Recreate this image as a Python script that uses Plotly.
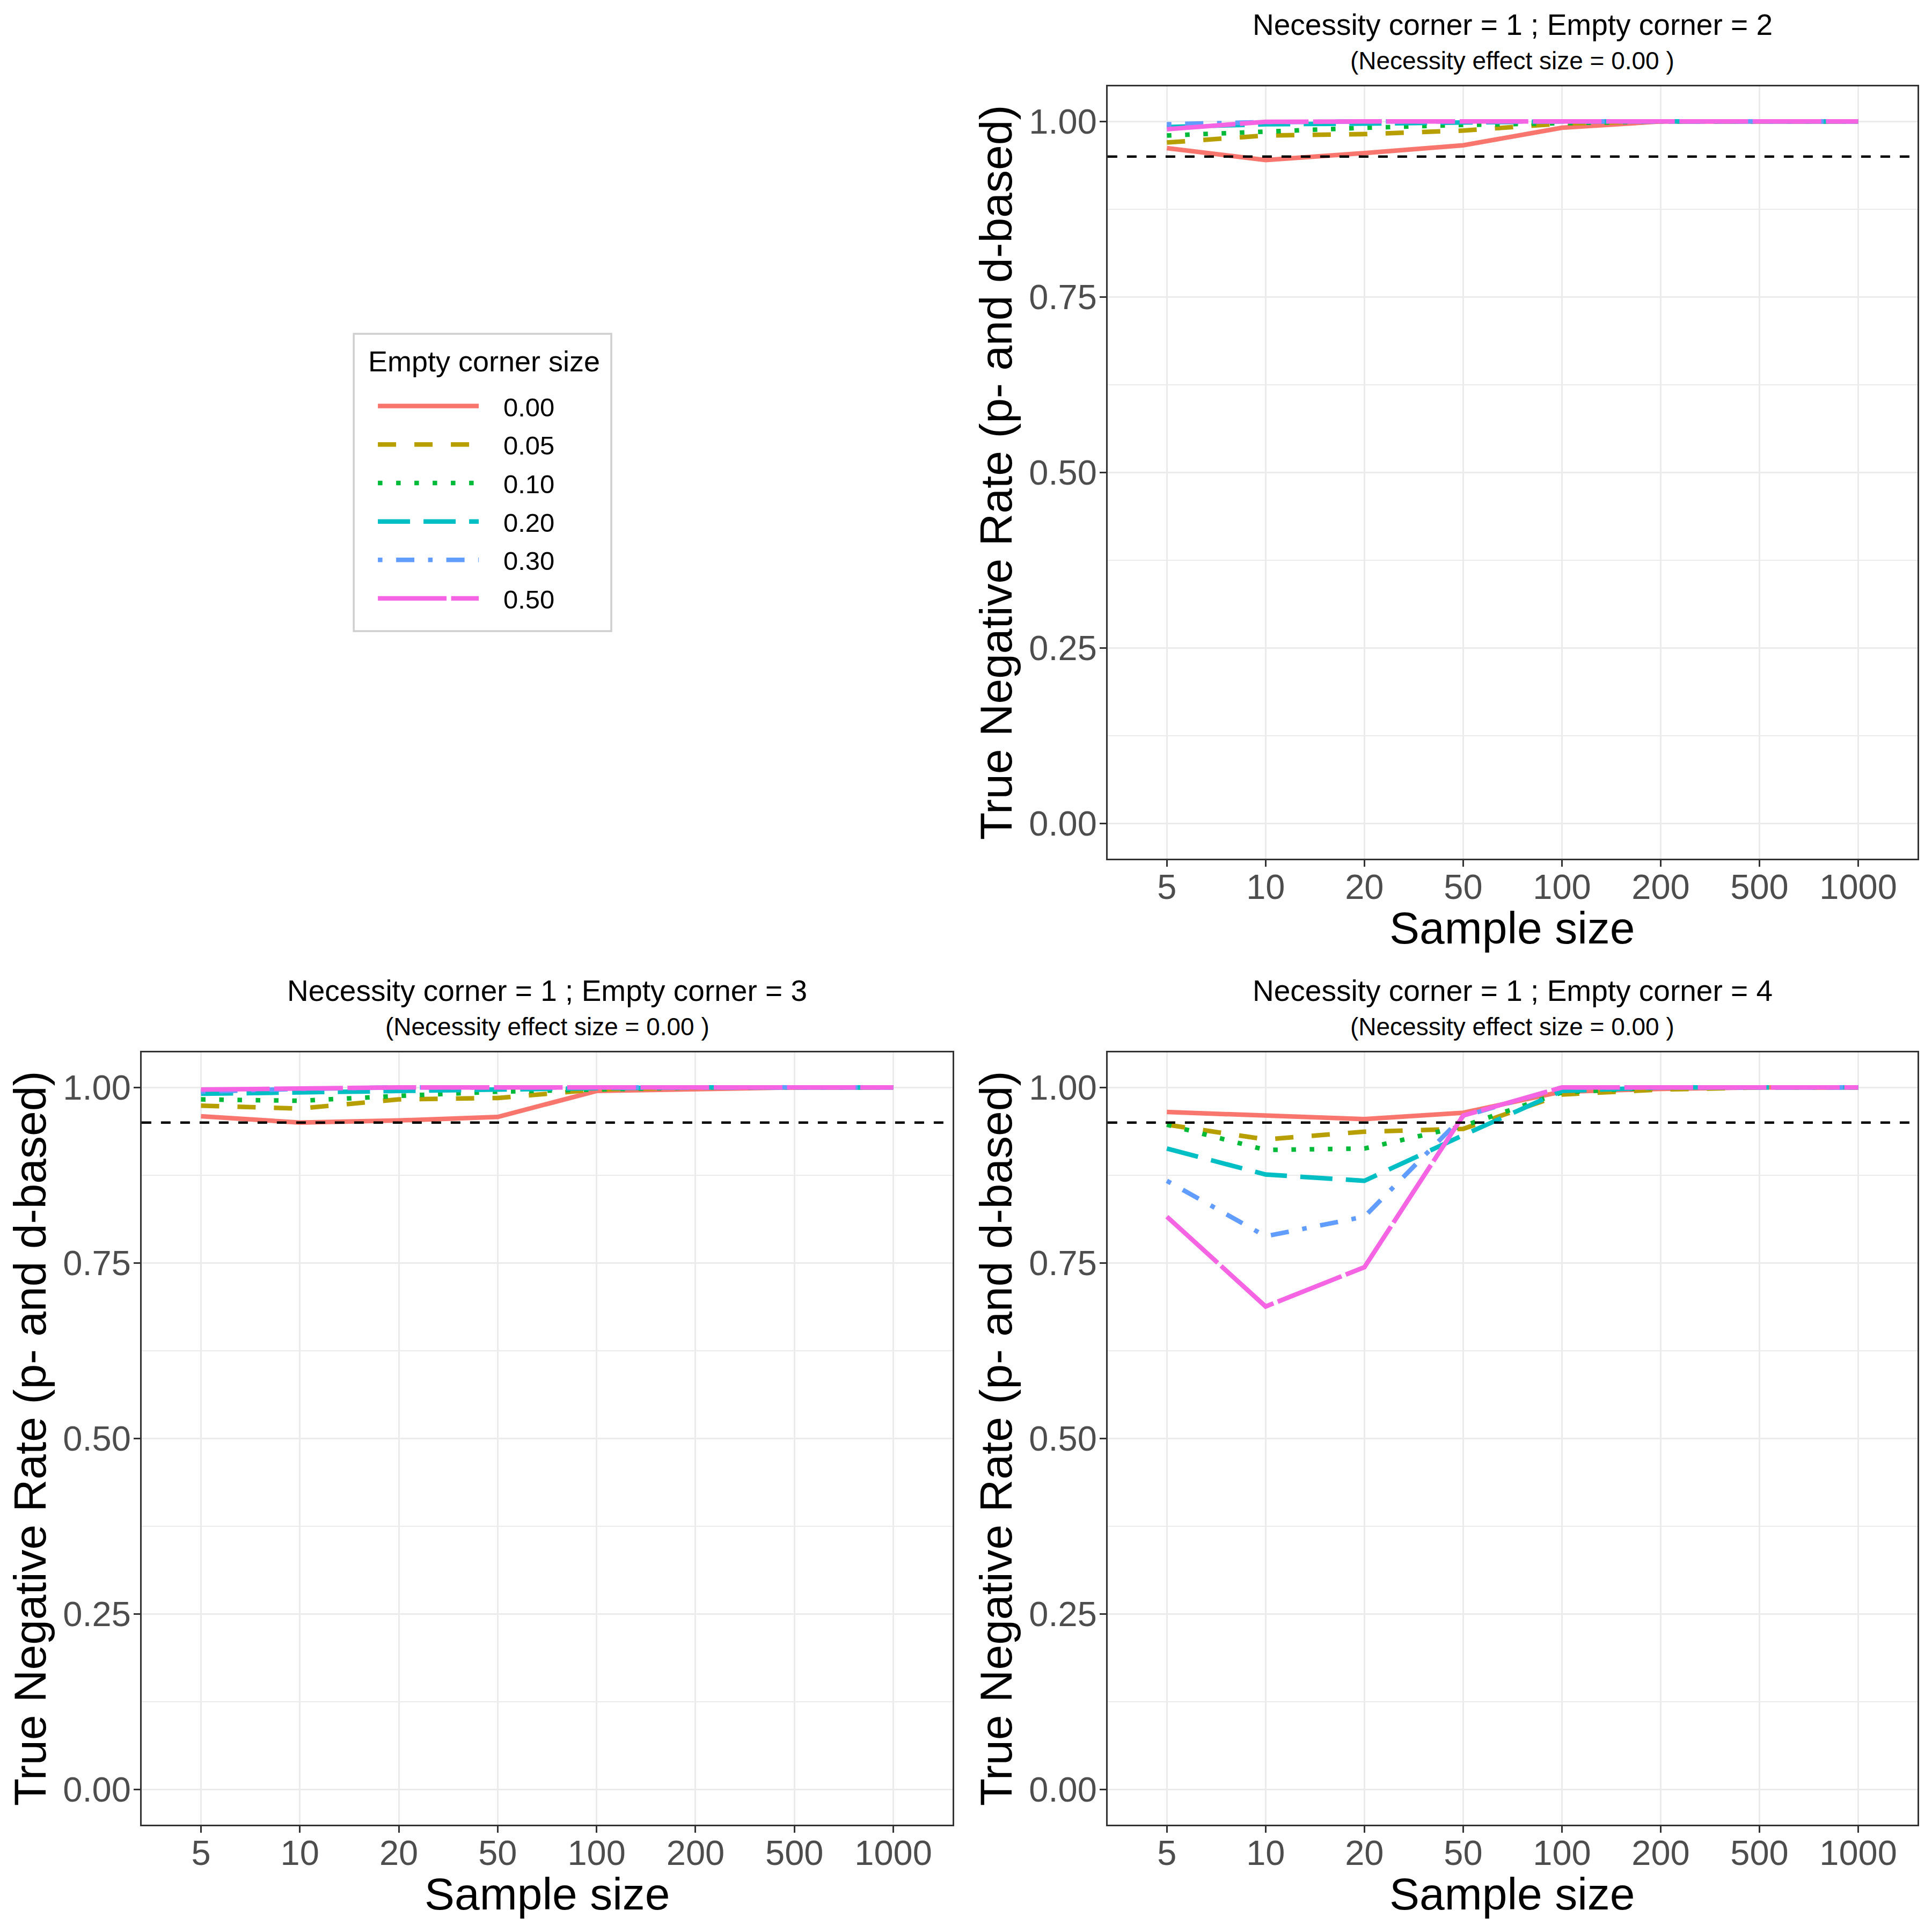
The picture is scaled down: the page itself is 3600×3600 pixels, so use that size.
import plotly.graph_objects as go

# x categories and legend levels
sample_sizes = ["5", "10", "20", "50", "100", "200", "500", "1000"]
corner_sizes = ["0.00", "0.05", "0.10", "0.20", "0.30", "0.50"]

# true negative rate per empty corner size, one list per level (0.00 .. 0.50)
tnr_ec2 = [
    [0.962, 0.945, 0.955, 0.966, 0.991, 1.0, 1.0, 1.0],
    [0.970, 0.980, 0.982, 0.987, 0.997, 1.0, 1.0, 1.0],
    [0.980, 0.986, 0.991, 0.995, 0.998, 1.0, 1.0, 1.0],
    [0.992, 0.996, 0.997, 0.999, 1.0, 1.0, 1.0, 1.0],
    [0.996, 0.999, 1.0, 1.0, 1.0, 1.0, 1.0, 1.0],
    [0.989, 0.9995, 1.0, 1.0, 1.0, 1.0, 1.0, 1.0],
]
tnr_ec3 = [
    [0.959, 0.950, 0.953, 0.958, 0.995, 0.998, 1.0, 1.0],
    [0.974, 0.970, 0.983, 0.985, 0.997, 1.0, 1.0, 1.0],
    [0.983, 0.981, 0.988, 0.994, 0.997, 1.0, 1.0, 1.0],
    [0.991, 0.993, 0.996, 0.997, 0.999, 1.0, 1.0, 1.0],
    [0.994, 0.998, 1.0, 1.0, 1.0, 1.0, 1.0, 1.0],
    [0.997, 0.999, 1.0, 1.0, 1.0, 1.0, 1.0, 1.0],
]
tnr_ec4 = [
    [0.965, 0.960, 0.955, 0.964, 0.994, 0.998, 1.0, 1.0],
    [0.947, 0.926, 0.937, 0.941, 0.990, 0.997, 1.0, 1.0],
    [0.947, 0.911, 0.913, 0.945, 0.993, 1.0, 1.0, 1.0],
    [0.913, 0.876, 0.867, 0.932, 0.995, 1.0, 1.0, 1.0],
    [0.867, 0.788, 0.816, 0.959, 1.0, 1.0, 1.0, 1.0],
    [0.816, 0.688, 0.744, 0.960, 1.0, 1.0, 1.0, 1.0],
]
empty_corners = [2, 3, 4]
necessity_corner = 1
effect_size = "0.00"
threshold = 0.95

colors = ["#F8766D", "#B79F00", "#00BA38", "#00BFC4", "#619CFF", "#F564E3"]
# ggplot linetypes scaled by line width (~8.5px)
dashes = ["solid", "34px,34px", "8.5px,25.5px", "60px,25px",
          "8.5px,25.5px,34px,25.5px", "128px,8.5px"]

FONT = "Liberation Sans"
NBSP = "\u00a0"
panels = [
    ("x", "y", tnr_ec2, [0.5733, 0.9925], [0.5556, 0.9553]),
    ("x2", "y2", tnr_ec3, [0.0733, 0.4931], [0.0556, 0.4553]),
    ("x3", "y3", tnr_ec4, [0.5733, 0.9925], [0.0556, 0.4553]),
]

fig = go.Figure()
layout = dict(
    width=3600, height=3600,
    margin=dict(l=0, r=0, t=0, b=0),
    paper_bgcolor="white", plot_bgcolor="white",
    font=dict(family=FONT, color="black"),
    showlegend=True,
    legend=dict(
        x=0.1942, y=0.8005, xanchor="left", yanchor="top",
        bgcolor="rgba(0,0,0,0)", borderwidth=0,
        font=dict(size=49, family=FONT),
        itemwidth=188, tracegroupgap=5,
    ),
    shapes=[dict(
        # legend box (ggplot legend.background)
        type="rect", xref="paper", yref="paper",
        x0=0.1831, x1=0.3164, y0=0.6733, y1=0.8272,
        line=dict(color="#CFCFCF", width=3.5), fillcolor="rgba(0,0,0,0)",
    )],
    annotations=[dict(
        text="Empty corner size", xref="paper", yref="paper",
        x=0.19, y=0.8131, xanchor="left", yanchor="middle", showarrow=False,
        font=dict(size=54, family=FONT, color="black"),
    )],
)

for p, (xa, ya, series, xdom, ydom) in enumerate(panels):
    for i, level in enumerate(corner_sizes):
        fig.add_trace(go.Scatter(
            x=sample_sizes, y=series[i], mode="lines",
            name=NBSP * 3 + level, legendgroup=level, showlegend=(p == 0),
            line=dict(color=colors[i], width=8.5, dash=dashes[i]),
            xaxis=xa, yaxis=ya, hoverinfo="skip",
        ))

    xkey = "xaxis" if xa == "x" else "xaxis" + xa[1:]
    ykey = "yaxis" if ya == "y" else "yaxis" + ya[1:]
    layout[xkey] = dict(
        domain=xdom, anchor=ya, type="category",
        categoryorder="array", categoryarray=sample_sizes,
        range=[-0.6, len(sample_sizes) - 0.4],
        showline=True, mirror=True, linecolor="#333333", linewidth=3,
        ticks="outside", ticklen=12, tickwidth=3, tickcolor="#333333",
        tickfont=dict(size=65, color="#4D4D4D", family=FONT),
        ticklabelstandoff=-18,
        showgrid=True, gridcolor="#EBEBEB", gridwidth=3, zeroline=False,
    )
    layout[ykey] = dict(
        domain=ydom, anchor=xa, range=[-0.05, 1.05],
        tickmode="linear", tick0=0, dtick=0.25, tickformat=".2f",
        showline=True, mirror=True, linecolor="#333333", linewidth=3,
        ticks="outside", ticklen=12, tickwidth=3, tickcolor="#333333",
        tickfont=dict(size=65, color="#4D4D4D", family=FONT),
        ticklabelstandoff=-8,
        showgrid=True, gridcolor="#EBEBEB", gridwidth=3, zeroline=False,
        minor=dict(dtick=0.125, tick0=0, showgrid=True, gridcolor="#EBEBEB", gridwidth=1.6),
        title=dict(text="True Negative Rate (p- and d-based)",
                   font=dict(size=84, color="black"), standoff=4),
    )
    layout["shapes"].append(dict(
        type="line", xref=xa + " domain", yref=ya, x0=0, x1=1, y0=threshold, y1=threshold,
        line=dict(color="black", width=4.3, dash="18px,18px"),
    ))
    layout["annotations"] += [
        dict(text=f"Necessity corner = {necessity_corner} ; Empty corner = {empty_corners[p]}",
             xref=xa + " domain", yref=ya + " domain", x=0.5, y=1.080,
             xanchor="center", yanchor="middle", showarrow=False,
             font=dict(size=55, family=FONT, color="black")),
        dict(text=f"(Necessity effect size = {effect_size} )",
             xref=xa + " domain", yref=ya + " domain", x=0.5, y=1.033,
             xanchor="center", yanchor="middle", showarrow=False,
             font=dict(size=46, family=FONT, color="black")),
        dict(text="Sample size",
             xref=xa + " domain", yref=ya + " domain", x=0.5, y=-0.0896,
             xanchor="center", yanchor="middle", showarrow=False,
             font=dict(size=84, family=FONT, color="black")),
    ]

fig.update_layout(**layout)
fig.write_html("out.html", config={"displayModeBar": False},
               post_script="document.body.style.margin='0px';")
